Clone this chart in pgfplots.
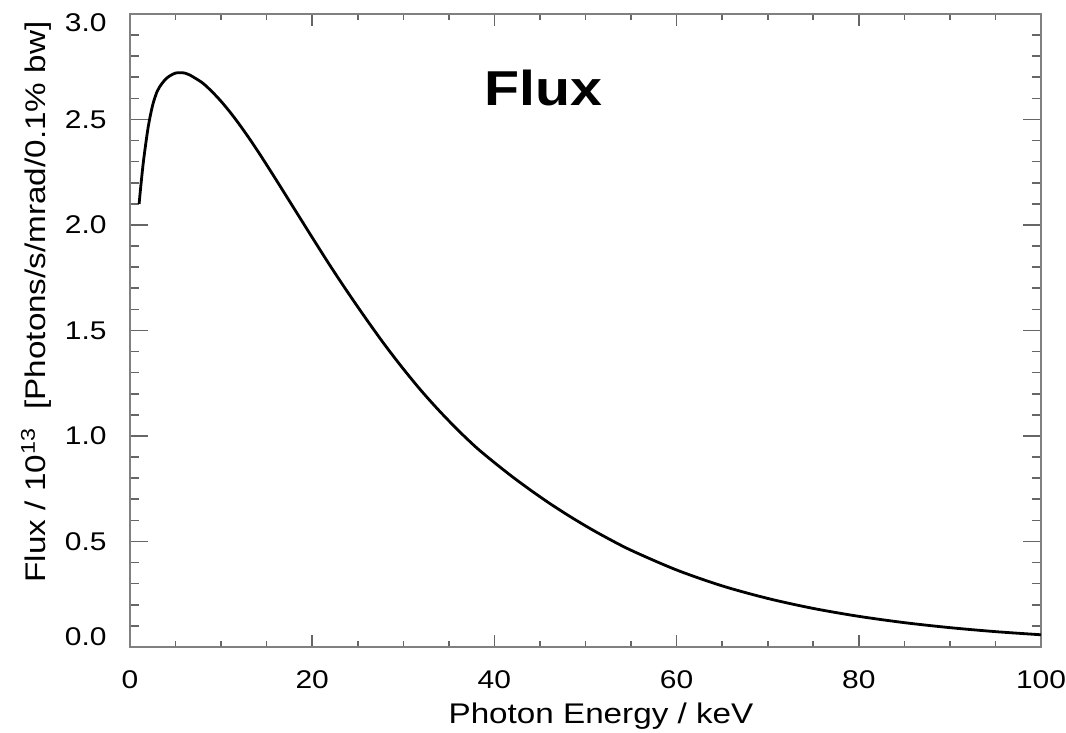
\documentclass[border=0pt]{standalone}
\usepackage{fontspec}
\setmainfont{Liberation Sans}[FakeStretch=1.17]
\usepackage{pgfplots}
\pgfplotsset{compat=1.18}
\begin{document}
\begin{tikzpicture}
\begin{axis}[name=ax, scale only axis, width=455.5pt, height=316.5pt,
 xmin=0,xmax=100,ymin=0,ymax=3,
 xtick={0,20,40,60,80,100}, minor x tick num=3,
 ytick={0,0.5,1,1.5,2,2.5,3}, minor y tick num=4,
 yticklabels={\raisebox{5pt}[\height][\depth]{0.0},0.5,1.0,1.5,2.0,2.5,\raisebox{-4.25pt}[\height][\depth]{3.0}},
 tick align=inside, xtick pos=both, ytick pos=both,
 axis line style={black!50, line width=1pt},
 every tick/.style={black!60, line width=0.8pt},
 xtick style={/pgfplots/major tick length=6pt,/pgfplots/minor tick length=3pt},
 ytick style={/pgfplots/major tick length=9pt,/pgfplots/minor tick length=4.5pt},
 /pgf/number format/assume math mode=true,
 tick label style={font=\fontsize{12.8}{14}\selectfont},
 xticklabel style={yshift=-8.2pt},
 yticklabel style={xshift=-8.2pt},
 label style={font=\fontsize{14.2}{16}\selectfont},
 xlabel={Photon Energy / keV},
 ylabel={Flux / 10\textsuperscript{13}\ \ [Photons/s/mrad/0.1\% bw]},
 xlabel style={at={(axis description cs:0.517,-0.109)}, anchor=center},
 ylabel style={at={(axis description cs:-0.103,0.545)}, anchor=center},
]
\addplot[black, line width=1.4pt, smooth, tension=0.5] table {
x y
1.0 2.10
1.2 2.19
1.5 2.31
2.0 2.465
2.5 2.57
3.0 2.635
3.5 2.67
4.0 2.695
4.5 2.71
5.0 2.72
5.5 2.722
6.0 2.72
6.5 2.712
7.0 2.70
8.0 2.672
9.0 2.632
10 2.586
11 2.534
12 2.477
13 2.416
14 2.352
15 2.285
16 2.217
17 2.148
18 2.079
19 2.010
20 1.941
22 1.805
24 1.675
26 1.550
28 1.430
30 1.318
32 1.213
34 1.117
36 1.028
38 0.946
40 0.874
42 0.806
44 0.7425
46 0.6825
48 0.6266
50 0.5742
52 0.5254
55 0.4585
60 0.365
65 0.2897
70 0.2302
75 0.1828
80 0.1453
85 0.1154
90 0.0917
95 0.0728
100 0.0579
};
\node[font=\fontsize{24.5}{28}\selectfont\bfseries] at (axis cs:45.4,2.65) {Flux};
\end{axis}
\pgfresetboundingbox
\path ([shift={(-65pt,-43pt)}]ax.south west) rectangle ([shift={(12.5pt,7pt)}]ax.north east);
\end{tikzpicture}
\end{document}
